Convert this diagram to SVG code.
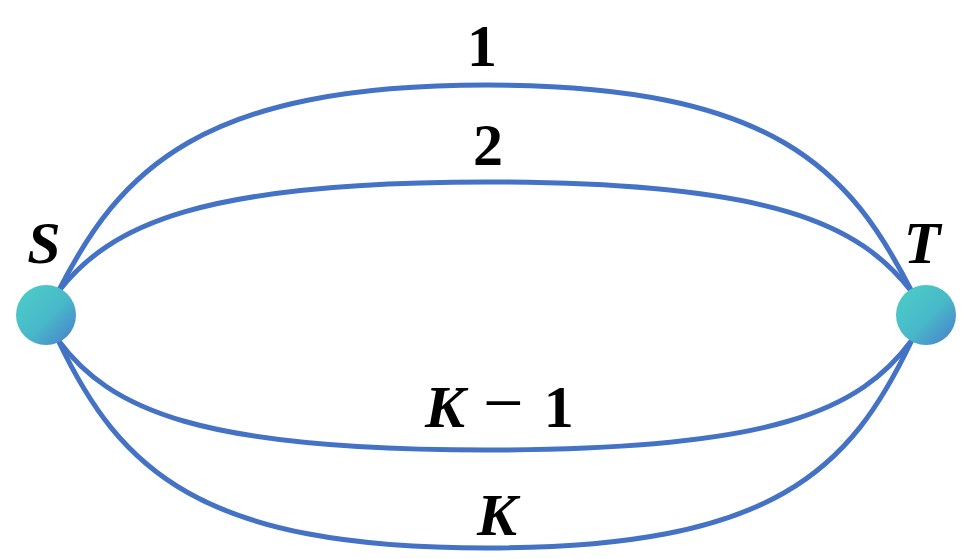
<svg xmlns="http://www.w3.org/2000/svg" width="974" height="559" viewBox="0 0 974 559">
<defs>
<linearGradient id="g" x1="0" y1="0" x2="1" y2="1">
<stop offset="0.2" stop-color="#4BC7C8"/>
<stop offset="0.55" stop-color="#48B8C9"/>
<stop offset="1" stop-color="#4A7ACC"/>
</linearGradient>
<style>
.e{fill:none;stroke:#4472C4;stroke-width:5;stroke-linecap:butt}
.l{font-family:"Liberation Serif",serif;font-weight:bold;font-size:60px;fill:#000}
.c{text-anchor:middle}
.i{font-style:italic}
.m{font-weight:normal;font-size:72px}
</style>
</defs>
<g id="edges">
<path class="e" d="M58,292 C120,170 200,85 487,85 C775,85 850,170 912,292"/>
<path class="e" d="M58,292 C110,225 200,182 487,182 C775,182 860,225 912,292"/>
<path class="e" d="M58,340 C110,410 200,450 487,450 C775,450 860,410 912,340"/>
<path class="e" d="M58,340 C120,470 200,548 487,548 C775,548 850,470 912,340"/>
</g>
<g id="node-S">
<circle cx="46" cy="315" r="30" fill="url(#g)"/>
<text class="l i c" x="44" y="263">S</text>
</g>
<g id="node-T">
<circle cx="926" cy="315" r="30" fill="url(#g)"/>
<text class="l i c" x="922" y="263">T</text>
</g>
<g id="labels">
<text class="l c" x="482" y="66">1</text>
<text class="l c" x="488" y="165">2</text>
<text class="l" x="425" y="427"><tspan class="i">K</tspan><tspan class="m" dx="18">−</tspan><tspan dx="20">1</tspan></text>
<text class="l i c" x="497" y="535">K</text>
</g>
</svg>
